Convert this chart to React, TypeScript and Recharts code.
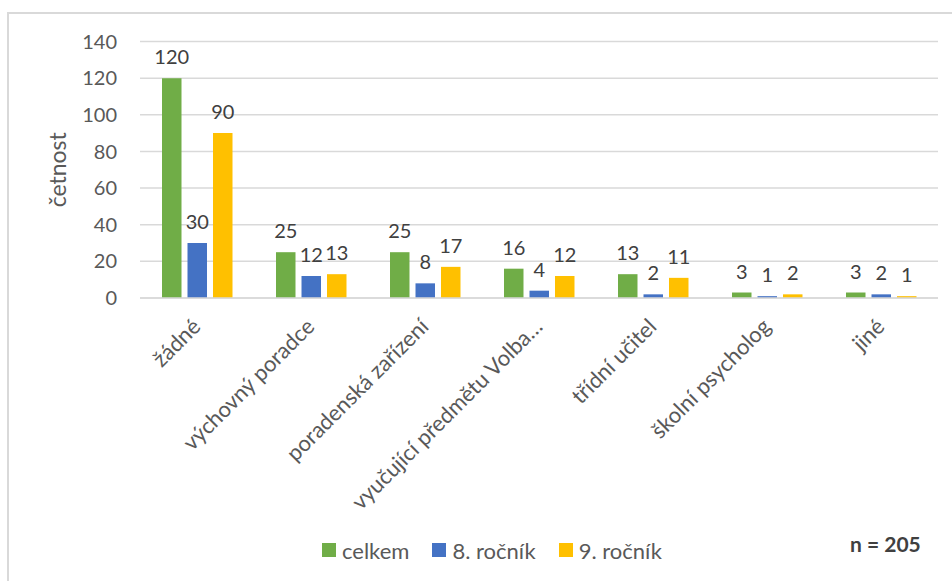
import { BarChart, Bar, XAxis, YAxis, CartesianGrid, Legend, LabelList } from 'recharts'

// kategorie a četnosti (n = 205)
const categories = [
  'žádné',
  'výchovný poradce',
  'poradenská zařízení',
  'vyučující předmětu Volba…',
  'třídní učitel',
  'školní psycholog',
  'jiné',
]
const celkem = [120, 25, 25, 16, 13, 3, 3]
const rocnik8 = [30, 12, 8, 4, 2, 1, 2]
const rocnik9 = [90, 13, 17, 12, 11, 2, 1]
const yTicks = [0, 20, 40, 60, 80, 100, 120, 140]

const series = [
  { key: 'celkem', name: 'celkem', color: '#70AD47' },
  { key: 'r8', name: '8. ročník', color: '#4472C4' },
  { key: 'r9', name: '9. ročník', color: '#FFC000' },
]

const data = categories.map((name, i) => ({
  name,
  celkem: celkem[i],
  r8: rocnik8[i],
  r9: rocnik9[i],
}))

const FONT = 'Lato, "Open Sans", sans-serif'

const XTick = ({ x, y, payload }: any) => (
  <g transform={`translate(${x + 5},${y + 30})`}>
    <text
      x={0}
      y={0}
      textAnchor="end"
      transform="rotate(-45)"
      fill="#595959"
      fontSize={22}
      fontFamily={FONT}
    >
      {payload.value}
    </text>
  </g>
)

const LegendContent = () => (
  <div style={{ position: 'relative', height: 28, fontFamily: FONT, fontSize: 22, color: '#595959' }}>
    <div style={{ position: 'absolute', left: 313, top: 0, height: 28, display: 'flex', alignItems: 'center' }}>
      {series.map((s) => (
        <div key={s.key} style={{ display: 'flex', alignItems: 'center', marginRight: 23 }}>
          <span style={{ width: 14, height: 14, background: s.color, marginRight: 6, display: 'inline-block' }} />
          <span>{s.name}</span>
        </div>
      ))}
    </div>
    <div
      style={{
        position: 'absolute',
        left: 841,
        top: -6,
        height: 28,
        lineHeight: '28px',
        fontWeight: 'bold',
        fontSize: 21,
        color: '#404040',
      }}
    >
      n = 205
    </div>
  </div>
)

export default function App() {
  return (
    <div
      style={{
        position: 'fixed',
        left: 7,
        top: 12,
        width: 960,
        height: 600,
        border: '2px solid #d9d9d9',
        background: '#fff',
      }}
    >
      <BarChart
        width={945}
        height={570}
        data={data}
        margin={{ top: 27.5, right: 16, left: 0, bottom: 0 }}
        barSize={19.5}
        barGap={6}
      >
        <CartesianGrid vertical={false} stroke="#d9d9d9" strokeWidth={1.5} />
        <XAxis
          dataKey="name"
          height={286}
          interval={0}
          tickLine={false}
          tickSize={0}
          tickMargin={0}
          axisLine={{ stroke: '#d9d9d9', strokeWidth: 1.5 }}
          tick={<XTick />}
        />
        <YAxis
          width={131}
          domain={[0, 140]}
          ticks={yTicks}
          axisLine={false}
          tickLine={false}
          tickSize={0}
          tickMargin={23}
          tick={{ fill: '#595959', fontSize: 20, fontFamily: FONT }}
          label={({ viewBox }: any) => (
            <text
              x={48}
              y={viewBox.y + viewBox.height / 2}
              transform={`rotate(-90, 48, ${viewBox.y + viewBox.height / 2})`}
              textAnchor="middle"
              dominantBaseline="central"
              fill="#595959"
              fontSize={23}
              fontFamily={FONT}
            >
              četnost
            </text>
          )}
        />
        <Legend
          layout="horizontal"
          align="center"
          verticalAlign="middle"
          wrapperStyle={{ left: 0, top: 522, width: 945, height: 28 }}
          content={<LegendContent />}
        />
        {series.map((s) => (
          <Bar key={s.key} dataKey={s.key} name={s.name} fill={s.color} isAnimationActive={false}>
            <LabelList
              dataKey={s.key}
              position="top"
              offset={14}
              fill="#404040"
              fontSize={20}
              fontFamily={FONT}
            />
          </Bar>
        ))}
      </BarChart>
    </div>
  )
}
